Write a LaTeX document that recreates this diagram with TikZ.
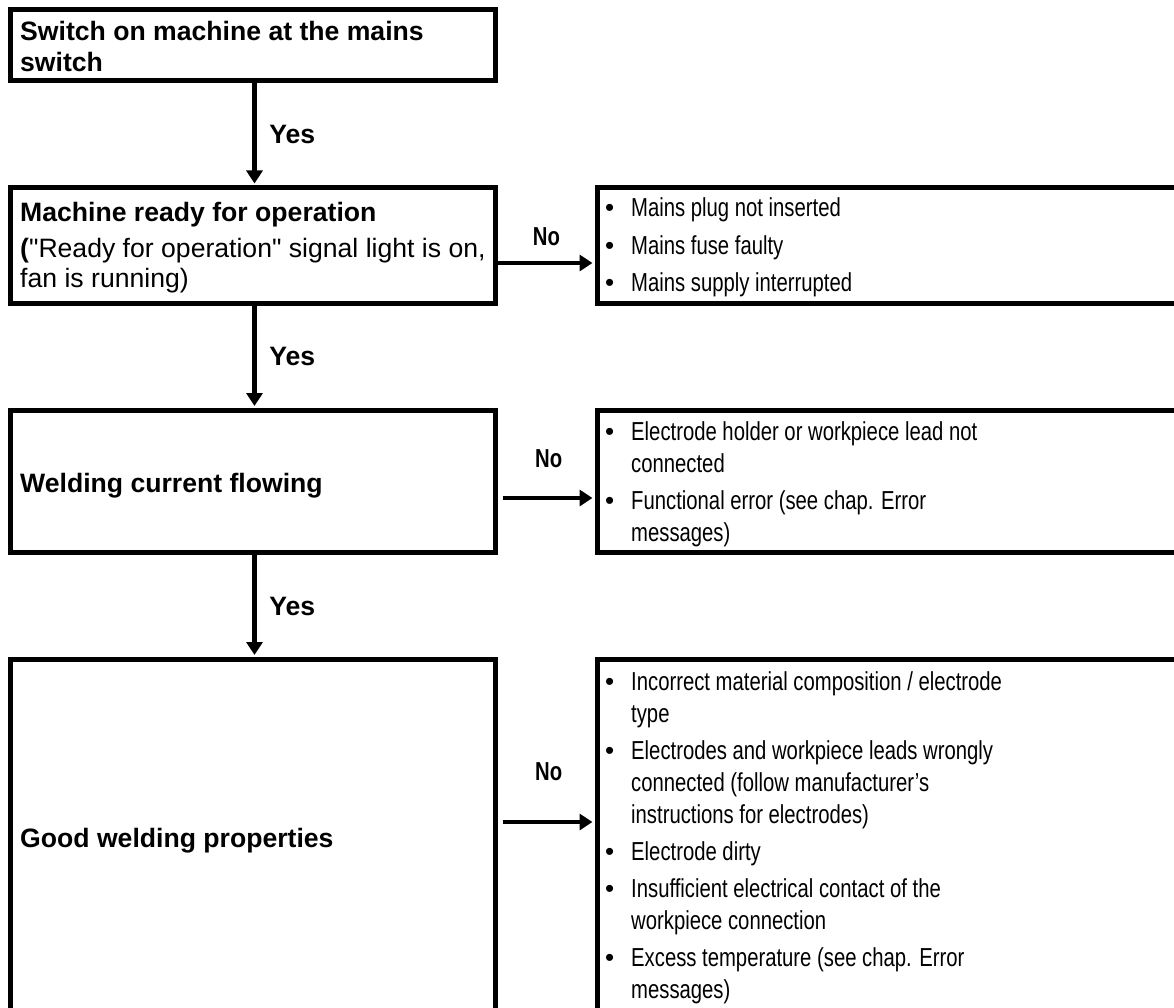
\documentclass[tikz,border=0pt]{standalone}
\usepackage{fontspec}
\setmainfont{Liberation Sans}
\newfontfamily\narrowfont[FakeStretch=0.78]{Liberation Sans}
\usetikzlibrary{arrows.meta}
\tikzset{
  box/.style={draw, line width=5pt, rectangle, inner sep=0pt, fill=none},
  arr/.style={line width=4.5pt, -{Triangle[width=16pt,length=13pt]}},
  lbl/.style={inner sep=0pt, font=\fontsize{26.6}{31}\selectfont\bfseries},
  nolbl/.style={inner sep=0pt, font=\fontsize{26}{31}\selectfont\narrowfont\bfseries},
  txt/.style={inner sep=0pt, anchor=base west},
}
\newcommand{\bl}{\makebox[26pt][l]{\textbullet}}
\begin{document}
\begin{tikzpicture}[x=1pt,y=-1pt]
\useasboundingbox (0,0) rectangle (1174,1008);
\clip (0,0) rectangle (1174,1008);
% left boxes
\node[box, minimum width=485pt, minimum height=71pt] (b1) at (253,45) {};
\node[box, minimum width=485pt, minimum height=115pt] (b2) at (253,245.5) {};
\node[box, minimum width=485pt, minimum height=142pt] (b3) at (253,481.5) {};
\node[box, minimum width=485pt, minimum height=357.5pt] (b4) at (253,838.25) {};
% right boxes
\node[box, minimum width=620pt, minimum height=115pt] (r1) at (907.5,245.5) {};
\node[box, minimum width=620pt, minimum height=142pt] (r2) at (907.5,481.5) {};
\node[box, minimum width=620pt, minimum height=357.5pt] (r3) at (907.5,838.25) {};
% left texts
\node[txt] (t1) at (20,41) {\fontsize{26.6}{31}\selectfont\bfseries
  \begin{tabular}[t]{@{}l@{}}Switch on machine at the mains\\switch\end{tabular}};
\node[txt] (t2) at (20,222) {\fontsize{26.6}{30}\selectfont
  \begin{tabular}[t]{@{}l@{}}\textbf{Machine ready for operation}\\[6pt]\textbf{(}\textquotedbl Ready for operation\textquotedbl{} signal light is on,\\fan is running)\end{tabular}};
\node[txt] (t3) at (20,492) {\fontsize{26.6}{31}\selectfont\bfseries Welding current flowing};
\node[txt] (t4) at (20,847) {\fontsize{26.6}{31}\selectfont\bfseries Good welding properties};
% right texts
\node[txt] (s1) at (605,217) {\fontsize{26}{33}\selectfont
  \begin{tabular}[t]{@{}l@{}l@{}}
  \bl & \narrowfont Mains plug not inserted\\[4.5pt]
  \bl & \narrowfont Mains fuse faulty\\[4.5pt]
  \bl & \narrowfont Mains supply interrupted
  \end{tabular}};
\node[txt] (s2) at (605,440) {\fontsize{26}{32}\selectfont
  \begin{tabular}[t]{@{}l@{}l@{}}
  \bl & \narrowfont Electrode holder or workpiece lead not\\
      & \narrowfont connected\\[5.5pt]
  \bl & \narrowfont Functional error (see chap. Error\\
      & \narrowfont messages)
  \end{tabular}};
\node[txt] (s3) at (605,690) {\fontsize{26}{32}\selectfont
  \begin{tabular}[t]{@{}l@{}l@{}}
  \bl & \narrowfont Incorrect material composition / electrode\\
      & \narrowfont type\\[5pt]
  \bl & \narrowfont Electrodes and workpiece leads wrongly\\
      & \narrowfont connected (follow manufacturer’s\\
      & \narrowfont instructions for electrodes)\\[5pt]
  \bl & \narrowfont Electrode dirty\\[5pt]
  \bl & \narrowfont Insufficient electrical contact of the\\
      & \narrowfont workpiece connection\\[5pt]
  \bl & \narrowfont Excess temperature (see chap. Error\\
      & \narrowfont messages)
  \end{tabular}};
% vertical arrows
\draw[arr, shorten >=2pt] ([xshift=1.5pt]b1.south) -- node[lbl, anchor=west, xshift=12.5pt] (y1) {Yes} ([xshift=1.5pt]b2.north);
\draw[arr, shorten >=2pt] ([xshift=1.5pt]b2.south) -- node[lbl, anchor=west, xshift=12.5pt] (y2) {Yes} ([xshift=1.5pt]b3.north);
\draw[arr, shorten >=2pt] ([xshift=1.5pt]b3.south) -- node[lbl, anchor=west, xshift=12.5pt] (y3) {Yes} ([xshift=1.5pt]b4.north);
% horizontal arrows
\draw[arr, shorten >=2.5pt] ([yshift=-17.5pt]b2.east) -- node[nolbl, anchor=south, yshift=15pt] (n1) {No} ([yshift=-17.5pt]r1.west);
\draw[arr, shorten >=2.5pt] ([yshift=-16.5pt, xshift=4.5pt]b3.east) -- node[nolbl, anchor=south, yshift=28pt] (n2) {No} ([yshift=-16.5pt]r2.west);
\draw[arr, shorten >=2.5pt] ([yshift=16.25pt, xshift=4.5pt]b4.east) -- node[nolbl, anchor=south, yshift=39pt] (n3) {No} ([yshift=16.25pt]r3.west);
\end{tikzpicture}
\end{document}
